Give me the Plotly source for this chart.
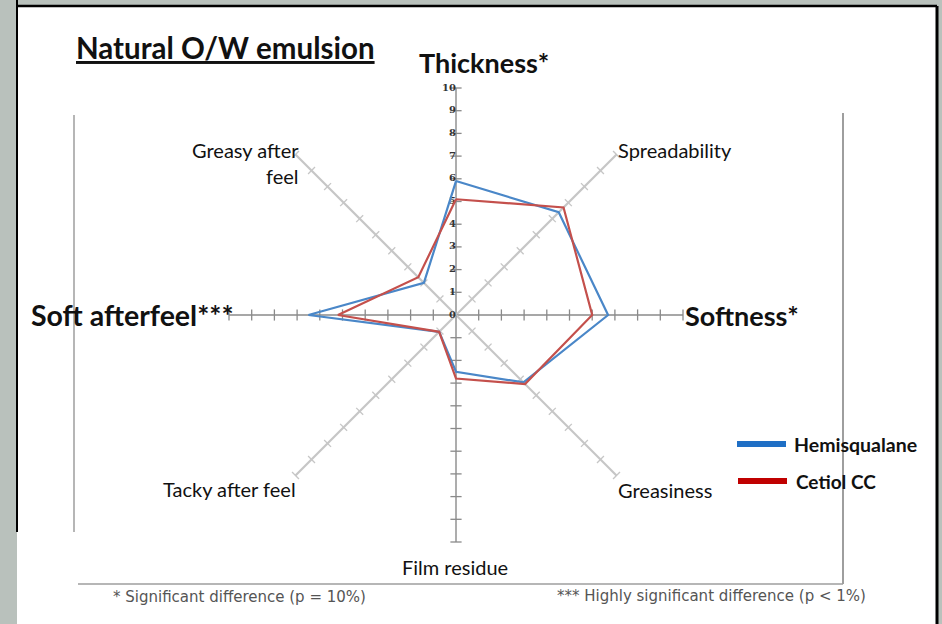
import plotly.graph_objects as go

# ---------------- data ----------------
categories = ["Thickness", "Spreadability", "Softness", "Greasiness",
              "Film residue", "Tacky after feel", "Soft afterfeel", "Greasy after feel"]
hemisqualane = [5.9, 6.4, 6.7, 4.2, 2.5, 1.05, 6.5, 2.0]
cetiol_cc = [5.1, 6.7, 6.0, 4.3, 2.8, 1.05, 5.2, 2.35]
tick_values = list(range(0, 11))
tick_labels = [str(v) for v in tick_values]
series_names = ["Hemisqualane", "Cetiol CC"]

W, H = 942, 624
def px(x):
    return x / W
def py(y):
    return 1 - y / H

fig = go.Figure()

# spokes with tick marks
main_axes = {"Thickness": 0, "Film residue": 0, "Softness": 90, "Soft afterfeel": 90}
diag_axes = {"Spreadability": 45, "Greasy after feel": -45, "Greasiness": -45, "Tacky after feel": 45}
for cat in categories:
    if cat in main_axes:
        col, lw, ms, ang = "#8a8a8a", 1.4, 8, main_axes[cat]
    else:
        col, lw, ms, ang = "#c6c6c6", 2.2, 7, diag_axes[cat]
    fig.add_trace(go.Scatterpolar(
        r=tick_values[1:], theta=[cat] * (len(tick_values) - 1),
        mode="markers",
        marker=dict(symbol="line-ew", size=ms, angle=ang,
                    line=dict(color=col, width=1.3)),
        hoverinfo="skip", showlegend=False))
    fig.add_trace(go.Scatterpolar(
        r=[0, tick_values[-1]], theta=[cat, cat], mode="lines",
        line=dict(color=col, width=lw), hoverinfo="skip", showlegend=False))

# vertical axis tick labels
fig.add_trace(go.Scatterpolar(
    r=tick_values, theta=["Thickness"] * len(tick_values), mode="text",
    text=["<b>%s</b>" % t for t in tick_labels], textposition="middle left",
    textfont=dict(family="DejaVu Serif", size=10, color="#333333"),
    hoverinfo="skip", showlegend=False))

# series
for name, vals, col in [(series_names[0], hemisqualane, "#4a87c8"),
                        (series_names[1], cetiol_cc, "#c4504c")]:
    fig.add_trace(go.Scatterpolar(
        r=vals + vals[:1], theta=categories + categories[:1], mode="lines",
        line=dict(color=col, width=2.2), name=name, showlegend=False))

cx, cy, R = 456, 315, 227
fig.update_layout(
    width=W, height=H, margin=dict(l=0, r=0, t=0, b=0),
    paper_bgcolor="#b9c1bc",
    polar=dict(
        domain=dict(x=[px(cx - R), px(cx + R)], y=[py(cy + R), py(cy - R)]),
        bgcolor="rgba(0,0,0,0)",
        radialaxis=dict(visible=False, range=[0, 10]),
        angularaxis=dict(type="category", categoryarray=categories,
                         direction="clockwise", rotation=90,
                         showgrid=False, showline=False, showticklabels=False,
                         ticks=""),
    ),
)

shapes = []
# white slide panel
shapes.append(dict(type="rect", xref="paper", yref="paper", x0=px(17), x1=px(937),
                   y0=py(624), y1=py(6), fillcolor="white", line=dict(width=0), layer="below"))
for (x0, y0, x1, y1, w) in [(17, 6, 937, 6, 2.5), (937, 6, 937, 624, 3), (17, 0, 17, 532, 2)]:
    shapes.append(dict(type="line", xref="paper", yref="paper", x0=px(x0), y0=py(y0),
                       x1=px(x1), y1=py(y1), line=dict(color="black", width=w)))
# chart box lines
for (x0, y0, x1, y1, w) in [(74, 115, 74, 532, 1.5), (843, 113, 843, 584, 2), (78, 584, 843, 584, 1.5)]:
    shapes.append(dict(type="line", xref="paper", yref="paper", x0=px(x0), y0=py(y0),
                       x1=px(x1), y1=py(y1), line=dict(color="#9e9e9e", width=w)))
# legend bars
shapes.append(dict(type="line", xref="paper", yref="paper", x0=px(737), x1=px(786),
                   y0=py(444), y1=py(444), line=dict(color="#1f6fc5", width=6)))
shapes.append(dict(type="line", xref="paper", yref="paper", x0=px(738), x1=px(787),
                   y0=py(481), y1=py(481), line=dict(color="#c00000", width=6)))
fig.update_layout(shapes=shapes)

F = "Lato"
ann = []
def add(text, x, y, xa="left", size=16, bold=False, color="#111111", family=F, align="left"):
    if bold:
        text = "<b>" + text + "</b>"
    ann.append(dict(text=text, x=px(x), y=py(y), xref="paper", yref="paper",
                    xanchor=xa, yanchor="middle", showarrow=False, align=align,
                    font=dict(family=family, size=size, color=color)))

add("<u>Natural O/W emulsion</u>", 74, 48, size=29.5, bold=True)
add("Thickness*", 484, 63, xa="center", size=27, bold=True)
add("Spreadability", 616, 150, size=20)
add("Softness*", 683, 315, size=27, bold=True)
add("Greasiness", 616, 490, size=20)
add("Film residue", 455, 567, xa="center", size=20)
add("Tacky after feel", 298, 489, xa="right", size=20)
add("Soft afterfeel***", 236, 315, xa="right", size=28.5, bold=True)
add("Greasy after<br>feel", 301, 163, xa="right", size=20, align="right")
add(series_names[0], 792, 444, size=19.5, bold=True)
add(series_names[1], 794, 481, size=19, bold=True)
add("* Significant difference (p = 10%)", 111, 597, size=15, color="#555555", family="DejaVu Sans")
add("*** Highly significant difference (p < 1%)", 555, 596, size=15, color="#555555", family="DejaVu Sans")
fig.update_layout(annotations=ann)

fig.write_html("out.html", config={"displayModeBar": False},
               post_script="document.body.style.margin='0px';")
